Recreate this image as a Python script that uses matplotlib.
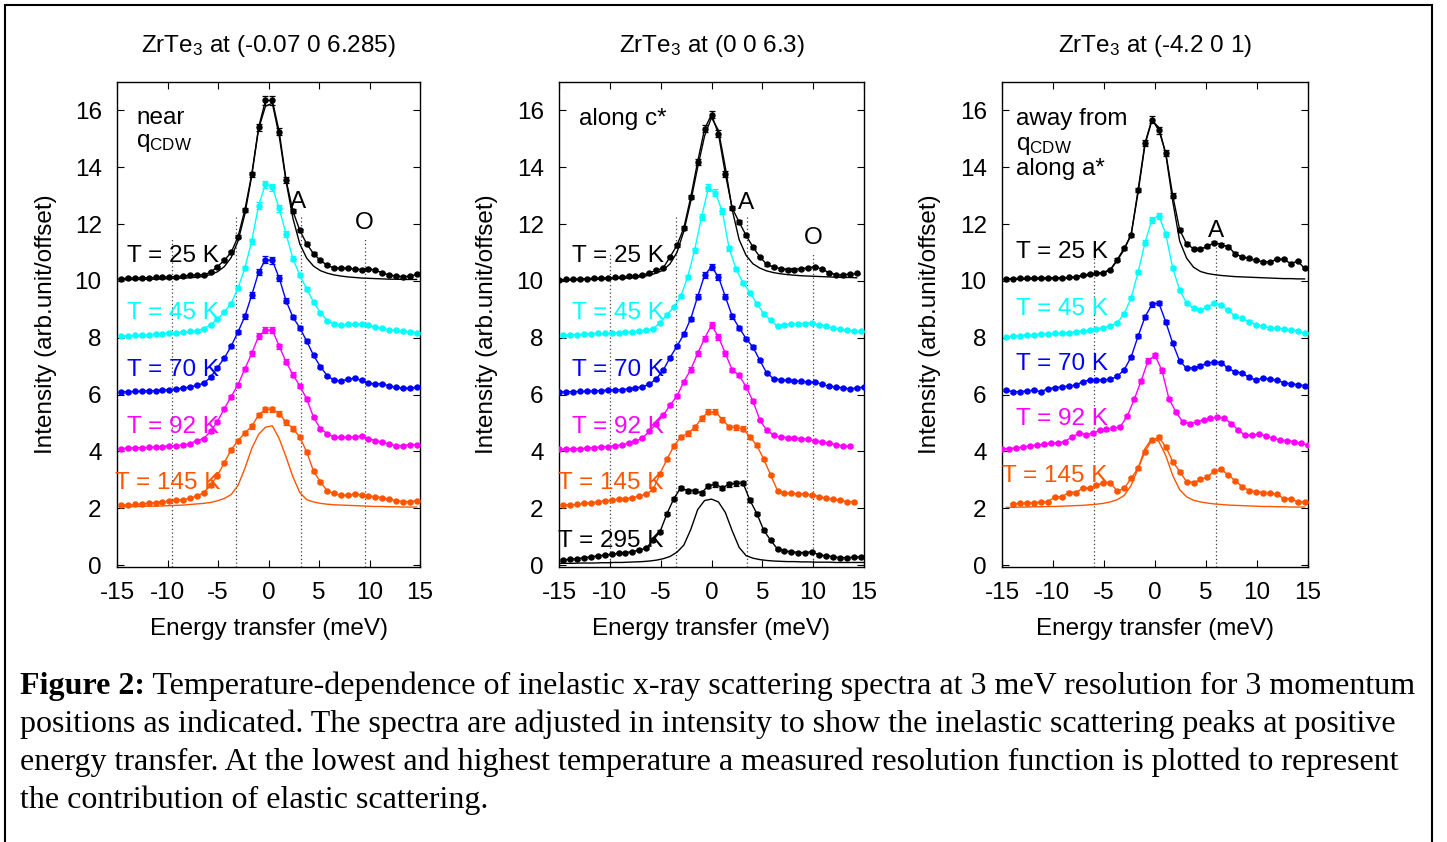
import numpy as np
import matplotlib
matplotlib.use("Agg")
import matplotlib.pyplot as plt
from matplotlib.patches import Rectangle

plt.rcParams['font.family'] = ['Liberation Sans', 'DejaVu Sans']
plt.rcParams['mathtext.default'] = 'regular'
plt.rcParams['axes.unicode_minus'] = False

## energy grids (meV) of the scans
EA = [-14.58, -13.90, -13.22, -12.54, -11.86, -11.18, -10.50, -9.82, -9.14, -8.46, -7.78,
      -7.10, -6.42, -5.74, -5.06, -4.38, -3.70, -3.02, -2.34, -1.66, -0.98, -0.30,
      0.38, 1.06, 1.74, 2.42, 3.10, 3.78, 4.46, 5.14, 5.82, 6.50, 7.18, 7.86, 8.54,
      9.22, 9.90, 10.58, 11.26, 11.94, 12.62, 13.30, 13.98, 14.66]
EB = [-14.96, -14.28, -13.60, -12.92, -12.24, -11.56, -10.88, -10.20, -9.52, -8.84, -8.16,
      -7.48, -6.80, -6.12, -5.44, -4.76, -4.08, -3.40, -2.72, -2.04, -1.36, -0.68, 0.00,
      0.68, 1.36, 2.04, 2.72, 3.40, 4.08, 4.76, 5.44, 6.12, 6.80, 7.48, 8.16, 8.84, 9.52,
      10.20, 10.88, 11.56, 12.24, 12.92, 13.60, 14.28, 14.96]

## panel 1 : (-0.07 0 6.285)
p1_25 = [10.08, 10.09, 10.10, 10.10, 10.11, 10.12, 10.13, 10.14, 10.15, 10.16, 10.20, 10.20, 10.22, 10.30, 10.50, 10.72, 11.00, 11.55, 12.50, 13.75, 15.40, 16.35,
         16.35, 15.25, 13.55, 12.45, 11.78, 11.30, 10.96, 10.72, 10.55, 10.45, 10.45, 10.44, 10.42, 10.40, 10.43, 10.37, 10.29, 10.20, 10.17, 10.15, 10.16, 10.23]
p1_45 = [8.05, 8.06, 8.08, 8.09, 8.10, 8.12, 8.14, 8.16, 8.18, 8.20, 8.22, 8.24, 8.32, 8.45, 8.65, 8.90, 9.20, 9.75, 10.45, 11.40, 12.65, 13.40,
         13.30, 12.55, 11.65, 10.78, 10.20, 9.72, 9.25, 8.88, 8.60, 8.48, 8.45, 8.47, 8.48, 8.47, 8.44, 8.38, 8.33, 8.28, 8.26, 8.23, 8.20, 8.18]
p1_70 = [6.09, 6.10, 6.11, 6.12, 6.13, 6.14, 6.15, 6.17, 6.20, 6.22, 6.27, 6.32, 6.40, 6.60, 6.95, 7.28, 7.70, 8.20, 8.75, 9.50, 10.30, 10.75,
         10.72, 10.10, 9.30, 8.72, 8.35, 7.88, 7.38, 6.98, 6.66, 6.50, 6.48, 6.54, 6.57, 6.50, 6.40, 6.37, 6.38, 6.30, 6.25, 6.22, 6.22, 6.25]
p1_92 = [4.10, 4.11, 4.12, 4.13, 4.14, 4.16, 4.17, 4.19, 4.20, 4.23, 4.27, 4.38, 4.45, 4.70, 5.05, 5.50, 5.92, 6.35, 6.90, 7.45, 8.05, 8.27,
         8.27, 7.70, 7.15, 6.70, 6.30, 5.85, 5.20, 4.80, 4.62, 4.50, 4.49, 4.49, 4.50, 4.55, 4.45, 4.38, 4.32, 4.26, 4.20, 4.20, 4.24, 4.24]
p1_145 = [2.11, 2.12, 2.13, 2.15, 2.17, 2.20, 2.22, 2.25, 2.28, 2.30, 2.35, 2.42, 2.55, 2.80, 3.15, 3.60, 4.05, 4.38, 4.65, 4.88, 5.28, 5.48,
          5.48, 5.33, 5.02, 4.80, 4.50, 3.98, 3.30, 2.93, 2.60, 2.52, 2.46, 2.45, 2.50, 2.47, 2.43, 2.40, 2.37, 2.32, 2.27, 2.23, 2.23, 2.26]
p1_res25 = [10.04, 10.04, 10.05, 10.05, 10.06, 10.06, 10.07, 10.08, 10.09, 10.10, 10.11, 10.13, 10.16, 10.22, 10.32, 10.50, 10.82, 11.40, 12.35, 13.70, 15.35, 16.15,
            16.25, 15.10, 13.50, 12.20, 11.30, 10.80, 10.52, 10.36, 10.27, 10.21, 10.17, 10.14, 10.12, 10.10, 10.09, 10.08, 10.07, 10.06, 10.06, 10.05, 10.05, 10.05]
p1_res145 = [2.05, 2.05, 2.06, 2.06, 2.07, 2.07, 2.08, 2.09, 2.10, 2.11, 2.13, 2.15, 2.17, 2.20, 2.26, 2.34, 2.48, 2.80, 3.40, 4.10, 4.60, 4.85,
             4.90, 4.45, 3.80, 3.10, 2.55, 2.30, 2.22, 2.17, 2.14, 2.12, 2.11, 2.10, 2.09, 2.08, 2.07, 2.06, 2.06, 2.05, 2.05, 2.04, 2.04, 2.04]

## panel 2 : (0 0 6.3)
p2_25 = [10.04, 10.05, 10.06, 10.07, 10.08, 10.09, 10.10, 10.10, 10.12, 10.14, 10.16, 10.17, 10.20, 10.28, 10.37, 10.45, 10.84, 11.25, 11.86, 12.95, 14.20, 15.35, 15.85,
         15.18, 13.77, 12.56, 12.07, 11.60, 11.19, 10.84, 10.58, 10.49, 10.43, 10.40, 10.40, 10.43, 10.46, 10.50, 10.41, 10.29, 10.22, 10.20, 10.25, 10.26]
p2_45 = [8.09, 8.10, 8.11, 8.12, 8.14, 8.15, 8.15, 8.17, 8.18, 8.19, 8.20, 8.23, 8.26, 8.32, 8.53, 8.81, 9.08, 9.46, 10.14, 11.08, 12.25, 13.27,
         13.10, 12.45, 11.14, 10.41, 9.94, 9.59, 9.20, 8.85, 8.61, 8.40, 8.46, 8.49, 8.49, 8.50, 8.51, 8.45, 8.40, 8.35, 8.30, 8.27, 8.24, 8.22]
p2_70 = [6.09, 6.10, 6.10, 6.11, 6.12, 6.13, 6.14, 6.15, 6.16, 6.17, 6.20, 6.23, 6.28, 6.36, 6.55, 6.85, 7.30, 7.70, 8.12, 8.67, 9.45, 10.20, 10.50,
         10.14, 9.45, 8.75, 8.35, 7.97, 7.67, 7.20, 6.75, 6.56, 6.52, 6.50, 6.48, 6.46, 6.44, 6.43, 6.36, 6.29, 6.26, 6.24, 6.20, 6.23, 6.26]
p2_92 = [4.07, 4.08, 4.09, 4.10, 4.11, 4.13, 4.15, 4.17, 4.20, 4.23, 4.28, 4.35, 4.47, 4.70, 4.97, 5.27, 5.62, 5.95, 6.45, 6.88, 7.45, 7.97, 8.45,
         8.03, 7.45, 6.86, 6.68, 6.27, 5.77, 5.10, 4.74, 4.57, 4.50, 4.48, 4.47, 4.45, 4.42, 4.37, 4.33, 4.29, 4.24, 4.19, 4.19]
p2_145 = [2.11, 2.12, 2.13, 2.17, 2.19, 2.22, 2.26, 2.28, 2.31, 2.33, 2.37, 2.42, 2.50, 2.66, 3.22, 3.72, 4.19, 4.51, 4.63, 4.84, 5.16, 5.39,
          5.39, 5.12, 4.86, 4.84, 4.80, 4.51, 4.21, 3.72, 3.17, 2.61, 2.52, 2.52, 2.50, 2.49, 2.47, 2.41, 2.35, 2.31, 2.29, 2.23, 2.23]
p2_295 = [0.18, 0.20, 0.22, 0.26, 0.29, 0.32, 0.35, 0.38, 0.41, 0.44, 0.47, 0.53, 0.59, 0.88, 1.17, 1.81, 2.34, 2.72, 2.61, 2.61, 2.54, 2.79,
          2.84, 2.72, 2.84, 2.87, 2.89, 2.28, 1.81, 1.22, 0.87, 0.56, 0.50, 0.47, 0.44, 0.44, 0.47, 0.35, 0.33, 0.29, 0.26, 0.26, 0.27, 0.29]
p2_res25 = [10.03, 10.03, 10.04, 10.04, 10.05, 10.05, 10.06, 10.07, 10.08, 10.09, 10.10, 10.12, 10.15, 10.20, 10.27, 10.38, 10.60, 11.00, 11.75, 12.80, 14.00, 15.10, 15.75,
            15.30, 14.00, 12.50, 11.45, 10.90, 10.60, 10.45, 10.35, 10.29, 10.25, 10.22, 10.20, 10.18, 10.17, 10.16, 10.15, 10.14, 10.13, 10.12, 10.12, 10.11]
p2_res295 = [0.06, 0.06, 0.06, 0.07, 0.07, 0.07, 0.08, 0.08, 0.09, 0.09, 0.10, 0.11, 0.12, 0.14, 0.17, 0.22, 0.30, 0.45, 0.70, 1.25, 1.95, 2.27, 2.32,
             2.22, 1.85, 1.20, 0.62, 0.33, 0.24, 0.19, 0.16, 0.14, 0.13, 0.12, 0.12, 0.11, 0.11, 0.10, 0.10, 0.10, 0.09, 0.09, 0.09, 0.09, 0.09]

## panel 3 : (-4.2 0 1)
p3_25 = [10.08, 10.08, 10.09, 10.09, 10.10, 10.10, 10.11, 10.11, 10.11, 10.12, 10.15, 10.20, 10.24, 10.26, 10.29, 10.40, 10.75, 11.15, 11.60, 13.20, 14.85, 15.68,
         15.30, 14.50, 13.00, 11.80, 11.30, 11.13, 11.12, 11.22, 11.35, 11.28, 11.20, 10.96, 10.84, 10.79, 10.73, 10.67, 10.67, 10.76, 10.76, 10.61, 10.69, 10.45]
p3_45 = [8.04, 8.05, 8.07, 8.09, 8.10, 8.12, 8.13, 8.15, 8.16, 8.18, 8.20, 8.23, 8.26, 8.31, 8.35, 8.42, 8.52, 8.85, 9.40, 10.30, 11.35, 12.15,
         12.30, 11.64, 10.45, 9.67, 9.22, 9.03, 8.97, 9.08, 9.22, 9.14, 8.98, 8.75, 8.68, 8.57, 8.46, 8.40, 8.35, 8.33, 8.31, 8.28, 8.24, 8.16]
p3_70 = [6.15, 6.10, 6.10, 6.13, 6.15, 6.10, 6.21, 6.24, 6.27, 6.30, 6.33, 6.45, 6.51, 6.51, 6.52, 6.53, 6.64, 6.87, 7.32, 8.05, 8.73, 9.17,
         9.22, 8.55, 7.80, 7.18, 6.93, 6.94, 7.02, 7.10, 7.14, 7.12, 6.92, 6.80, 6.76, 6.60, 6.52, 6.57, 6.54, 6.50, 6.42, 6.38, 6.35, 6.31]
p3_92 = [4.10, 4.10, 4.12, 4.16, 4.19, 4.22, 4.25, 4.28, 4.30, 4.34, 4.51, 4.63, 4.59, 4.63, 4.75, 4.77, 4.81, 4.87, 5.24, 5.83, 6.48, 7.19, 7.38,
         6.85, 5.86, 5.39, 5.04, 4.98, 5.04, 5.10, 5.16, 5.21, 5.16, 4.98, 4.75, 4.57, 4.57, 4.61, 4.54, 4.46, 4.40, 4.38, 4.34, 4.28, 4.22]
p3_145 = [2.14, 2.17, 2.19, 2.20, 2.21, 2.22, 2.40, 2.40, 2.55, 2.55, 2.70, 2.70, 2.82, 2.88, 2.90, 2.60, 2.70, 3.05, 3.40, 3.99, 4.40,
          4.49, 4.16, 3.64, 3.29, 2.93, 2.90, 3.01, 3.11, 3.30, 3.37, 3.17, 2.97, 2.76, 2.62, 2.58, 2.55, 2.52, 2.50, 2.34, 2.34, 2.22, 2.22]
p3_res25 = [10.05, 10.05, 10.06, 10.06, 10.07, 10.07, 10.08, 10.09, 10.10, 10.11, 10.13, 10.16, 10.20, 10.25, 10.30, 10.38, 10.72, 11.10, 11.65, 13.10, 14.80, 15.65,
            15.40, 14.45, 12.80, 11.40, 10.80, 10.48, 10.33, 10.26, 10.22, 10.19, 10.17, 10.15, 10.14, 10.13, 10.12, 10.11, 10.10, 10.09, 10.08, 10.08, 10.07, 10.07]
p3_res145 = [2.03, 2.03, 2.04, 2.04, 2.05, 2.05, 2.06, 2.06, 2.07, 2.08, 2.09, 2.10, 2.12, 2.14, 2.17, 2.22, 2.30, 2.45, 2.80, 3.40, 4.10, 4.45,
             4.35, 3.85, 3.15, 2.65, 2.40, 2.28, 2.22, 2.18, 2.15, 2.13, 2.11, 2.10, 2.09, 2.08, 2.07, 2.06, 2.06, 2.05, 2.05, 2.04, 2.04, 2.04]

titles = ["ZrTe$_3$ at (-0.07 0 6.285)", "ZrTe$_3$ at (0 0 6.3)", "ZrTe$_3$ at (-4.2 0 1)"]
xticks = [-15, -10, -5, 0, 5, 10, 15]
yticks = [0, 2, 4, 6, 8, 10, 12, 14, 16]

BLK, CYA, BLU, MAG, ORG = 'black', '#00ffff', '#0000ff', '#ff00ff', '#ff5500'
FS = 17.5

W, H = 1447, 842
fig = plt.figure(figsize=(W / 100, H / 100), dpi=100)

## (grid, start index, values, colour)
panels = [
    dict(box=(117, 420), data=[(EA, 0, p1_25, BLK), (EA, 0, p1_45, CYA), (EA, 0, p1_70, BLU),
                               (EA, 0, p1_92, MAG), (EA, 0, p1_145, ORG)],
         res=[(EA, p1_res25, BLK), (EA, p1_res145, ORG)],
         dots=[(-9.6, 11.46), (-3.2, 12.3), (3.2, 12.3), (9.6, 11.46)],
         marks=[("A", 2.97, 12.57), ("O", 9.5, 11.81)],
         notes=[("near", -13.1, 15.53), ("q$_{CDW}$", -13.1, 14.71)],
         labels=[("T = 25 K", -14.0, 10.66, BLK), ("T = 45 K", -14.0, 8.66, CYA), ("T = 70 K", -14.0, 6.66, BLU),
                 ("T = 92 K", -14.0, 4.66, MAG), ("T = 145 K", -15.2, 2.66, ORG)]),
    dict(box=(559, 864), data=[(EB, 0, p2_25, BLK), (EA, 0, p2_45, CYA), (EB, 0, p2_70, BLU),
                               (EB, 0, p2_92, MAG), (EA, 0, p2_145, ORG), (EA, 0, p2_295, BLK)],
         res=[(EB, p2_res25, BLK), (EB, p2_res295, BLK)],
         dots=[(-10.0, 11.0), (-3.5, 12.3), (3.5, 12.3), (10.0, 11.0)],
         marks=[("A", 3.37, 12.54), ("O", 10.03, 11.31)],
         notes=[("along c*", -13.03, 15.49)],
         labels=[("T = 25 K", -13.7, 10.66, BLK), ("T = 45 K", -13.7, 8.66, CYA), ("T = 70 K", -13.7, 6.66, BLU),
                 ("T = 92 K", -13.7, 4.66, MAG), ("T = 145 K", -15.1, 2.66, ORG), ("T = 295 K", -15.1, 0.64, BLK)]),
    dict(box=(1002, 1308), data=[(EA, 0, p3_25, BLK), (EA, 0, p3_45, CYA), (EA, 0, p3_70, BLU),
                                 (EB, 0, p3_92, MAG), (EA, 1, p3_145, ORG)],
         res=[(EA, p3_res25, BLK), (EA, p3_res145, ORG)],
         dots=[(-6.0, 11.0), (6.0, 11.37)],
         marks=[("A", 6.02, 11.54)],
         notes=[("away from", -13.62, 15.49), ("q$_{CDW}$", -13.62, 14.59), ("along a*", -13.62, 13.71)],
         labels=[("T = 25 K", -13.65, 10.8, BLK), ("T = 45 K", -13.65, 8.8, CYA), ("T = 70 K", -13.65, 6.88, BLU),
                 ("T = 92 K", -13.65, 4.93, MAG), ("T = 145 K", -15.0, 2.93, ORG)]),
]

top, bot = 82, 567
for i, p in enumerate(panels):
    x0, x1 = p['box']
    ax = fig.add_axes([x0 / W, 1 - bot / H, (x1 - x0) / W, (bot - top) / H])
    ax.set_xlim(-15, 15)
    ax.set_ylim(-0.07, 17)

    for xd, yt in p['dots']:
        ax.plot([xd, xd], [-0.07, yt], ls=(0, (1, 2)), color='0.25', lw=0.9, zorder=1)

    for E, r, c in p['res']:
        ax.plot(E[:len(r)], r, color=c, lw=1.0, zorder=2)

    for E, s, y, c in p['data']:
        x = np.array(E[s:s + len(y)])
        y = np.array(y)
        err = 0.03 + 0.018 * (y - y.min())   # counting-type error bars
        ax.errorbar(x, y, yerr=err, color=c, lw=1.0, marker='o', ms=3.6,
                    elinewidth=0.9, capsize=2.3, capthick=0.9, zorder=3)

    for s, x, y, c in p['labels']:
        ax.text(x, y, s, color=c, fontsize=FS, ha='left', va='baseline', zorder=6)
    for s, x, y in p['notes']:
        ax.text(x, y, s, color='black', fontsize=FS, ha='left', va='baseline', zorder=6)
    for s, x, y in p['marks']:
        ax.text(x, y, s, color='black', fontsize=FS, ha='center', va='baseline', zorder=6)

    ax.set_xticks(xticks)
    ax.set_yticks(yticks)
    ax.tick_params(direction='in', top=True, right=True, length=5, width=0.8,
                   labelsize=FS, pad=11)
    for sp in ax.spines.values():
        sp.set_linewidth(1.0)

    ax.text(0.5, 1 + (82 - 52) / 485, titles[i], transform=ax.transAxes,
            ha='center', va='baseline', fontsize=FS)
    ax.text(0.5, -(629 - 567) / 485, "Energy transfer (meV)", transform=ax.transAxes,
            ha='center', va='center', fontsize=FS)
    ax.text(-0.235, 0.5, "Intensity (arb.unit/offset)", transform=ax.transAxes,
            ha='center', va='center', rotation=90, fontsize=FS)

## caption
cap_lines = ["Temperature-dependence of inelastic x-ray scattering spectra at 3 meV resolution for 3 momentum",
             "positions as indicated. The spectra are adjusted in intensity to show the inelastic scattering peaks at positive",
             "energy transfer. At the lowest and highest temperature a measured resolution function is plotted to represent",
             "the contribution of elastic scattering."]
CFS = 23
serif = ['Liberation Serif', 'DejaVu Serif']
rend = fig.canvas.get_renderer()
bold = fig.text(20 / W, 1 - 694 / H, "Figure 2:", fontsize=CFS, family=serif, weight='bold', va='baseline')
bb = bold.get_window_extent(renderer=rend)
fig.text(bb.x1 / W, 1 - 694 / H, " " + cap_lines[0], fontsize=CFS, family=serif, va='baseline')
for j, line in enumerate(cap_lines[1:]):
    fig.text(20 / W, 1 - (694 + 38 * (j + 1)) / H, line, fontsize=CFS, family=serif, va='baseline')

## frame around the figure
fig.patches.append(Rectangle((5 / W, -0.05), 1427 / W, 1.05 - 5 / H, transform=fig.transFigure,
                             fill=False, edgecolor='black', lw=1.5))

fig.savefig("out.png", dpi=100)
